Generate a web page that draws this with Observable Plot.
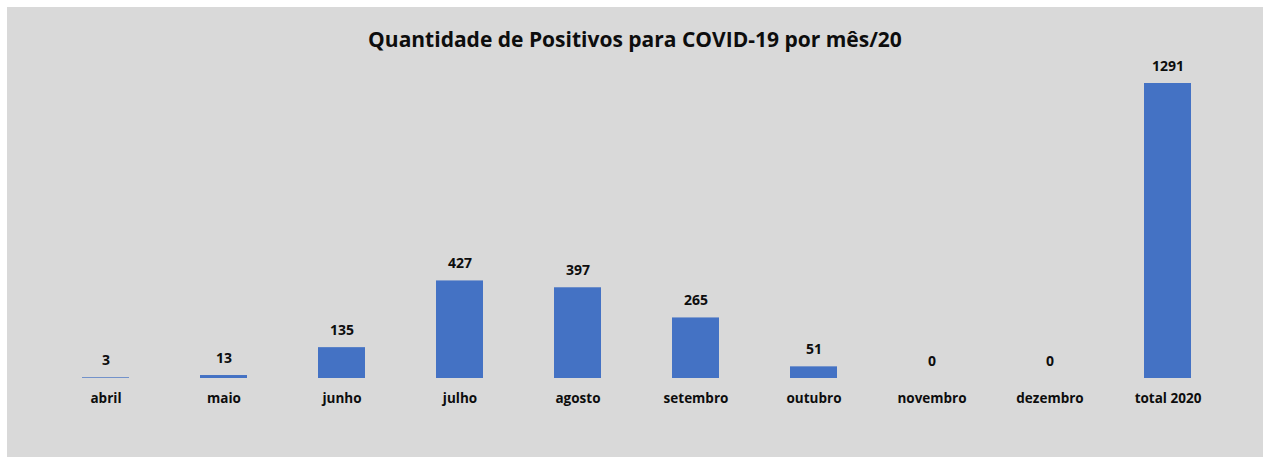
<!DOCTYPE html>
<html>
<head>
<meta charset="utf-8">
<script src="https://cdn.jsdelivr.net/npm/d3@7"></script>
<script src="https://cdn.jsdelivr.net/npm/@observablehq/plot@0.6"></script>
<style>
  html, body { margin: 0; padding: 0; background: #ffffff; }
  #chart {
    position: absolute; left: 7px; top: 7px; width: 1256px; height: 450px;
    background: #d9d9d9; font-family: "Open Sans", sans-serif;
  }
  #title {
    height: 43px; padding-top: 5px; box-sizing: border-box; line-height: 53px; text-align: center;
    font-size: 21px; font-weight: bold; color: #0d0d0d; white-space: nowrap; overflow: visible;
  }
  svg { display: block; overflow: visible; }
</style>
</head>
<body>
<div id="chart">
  <div id="title"><span style="position:relative; top:1px">Quantidade de Positivos para COVID-19 por mês/20</span></div>
</div>
<script>
const months = ["abril", "maio", "junho", "julho", "agosto", "setembro", "outubro", "novembro", "dezembro", "total 2020"];
const positives = [3, 13, 135, 427, 397, 265, 51, 0, 0, 1291];

const data = months.map((m, i) => ({month: m, value: positives[i]}));

const plot = Plot.plot({
  width: 1256,
  height: 407,
  marginLeft: 39,
  marginRight: 36,
  marginTop: 33,
  marginBottom: 79,
  style: {background: "transparent", fontFamily: "Open Sans, sans-serif", fontSize: "13px", color: "#0d0d0d", overflow: "visible"},
  x: {domain: months, paddingInner: 0.6, paddingOuter: 0.3, label: null},
  y: {domain: [0, 1291], axis: null},
  marks: [
    Plot.barY(data, {x: "month", y: "value", fill: "#4472c4"}),
    Plot.text(data, {x: "month", y: "value", text: d => String(d.value), dy: -17, fontWeight: "bold", fontSize: 14, fill: "#0d0d0d"}),
    Plot.axisX({tickSize: 0, tickPadding: 15, fontWeight: "bold", fontSize: 13.5, fill: "#0d0d0d"})
  ]
});
document.getElementById("chart").appendChild(plot);
</script>
</body>
</html>
